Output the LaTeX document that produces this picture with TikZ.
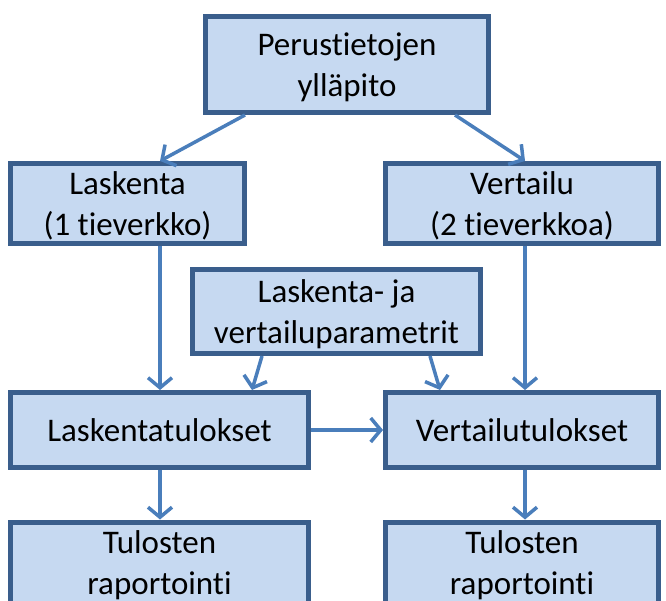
\documentclass[tikz,border=0pt]{standalone}
\usepackage{fontspec}
\setmainfont{Carlito}[RawFeature=-liga]
\usetikzlibrary{arrows.meta}
\definecolor{boxfill}{HTML}{C6D9F1}
\definecolor{boxline}{HTML}{3A5E8C}
\definecolor{arrowcol}{HTML}{4A7EBB}
\tikzset{
  stepbox/.style={draw=boxline, fill=boxfill, line width=5pt, rectangle, align=center,
    font=\fontsize{33}{41}\selectfont, inner sep=0pt, text depth=0pt},
  flow/.style={draw=arrowcol, line width=3.5pt,
    -{Straight Barb[length=10pt,width=24pt,line width=3.5pt]}}
}
\begin{document}
\begin{tikzpicture}[x=1pt,y=-1pt]
\useasboundingbox (0,0) rectangle (666,601);
\clip (0,0) rectangle (666,601);
\node[stepbox, minimum width=283pt, minimum height=96pt] (top) at (347,64.5) {Perustietojen\\ylläpito};
\node[stepbox, minimum width=234pt, minimum height=80pt] (lask) at (127.5,203.5) {Laskenta\\(1 tieverkko)};
\node[stepbox, minimum width=273pt, minimum height=80pt] (vert) at (522,203.5) {Vertailu\\(2 tieverkkoa)};
\node[stepbox, minimum width=288pt, minimum height=84pt] (param) at (336.5,311.5) {Laskenta- ja\\vertailuparametrit};
\node[stepbox, minimum width=298pt, minimum height=75pt] (ltul) at (159.5,430) {Laskentatulokset};
\node[stepbox, minimum width=273pt, minimum height=75pt] (vtul) at (522,430) {Vertailutulokset};
\node[stepbox, minimum width=298pt, minimum height=82pt] (lrap) at (159.5,563) {Tulosten\\raportointi};
\node[stepbox, minimum width=273pt, minimum height=82pt] (vrap) at (522,563) {Tulosten\\raportointi};

\draw[flow] (top.south -| 245,0) -- (lask.north -| 160,0);
\draw[flow] (top.south -| 455,0) -- (vert.north -| 525,0);
\draw[flow] (lask.south -| 160,0) -- (ltul.north -| 160,0);
\draw[flow] (vert.south -| 525,0) -- (vtul.north -| 525,0);
\draw[flow] (param.south -| 262,0) -- (ltul.north -| 252,0);
\draw[flow] (param.south -| 430,0) -- (vtul.north -| 440,0);
\draw[flow] (ltul.east) -- (vtul.west);
\draw[flow] (ltul.south -| 160,0) -- (lrap.north -| 160,0);
\draw[flow] (vtul.south -| 525,0) -- (vrap.north -| 525,0);
\end{tikzpicture}
\end{document}
